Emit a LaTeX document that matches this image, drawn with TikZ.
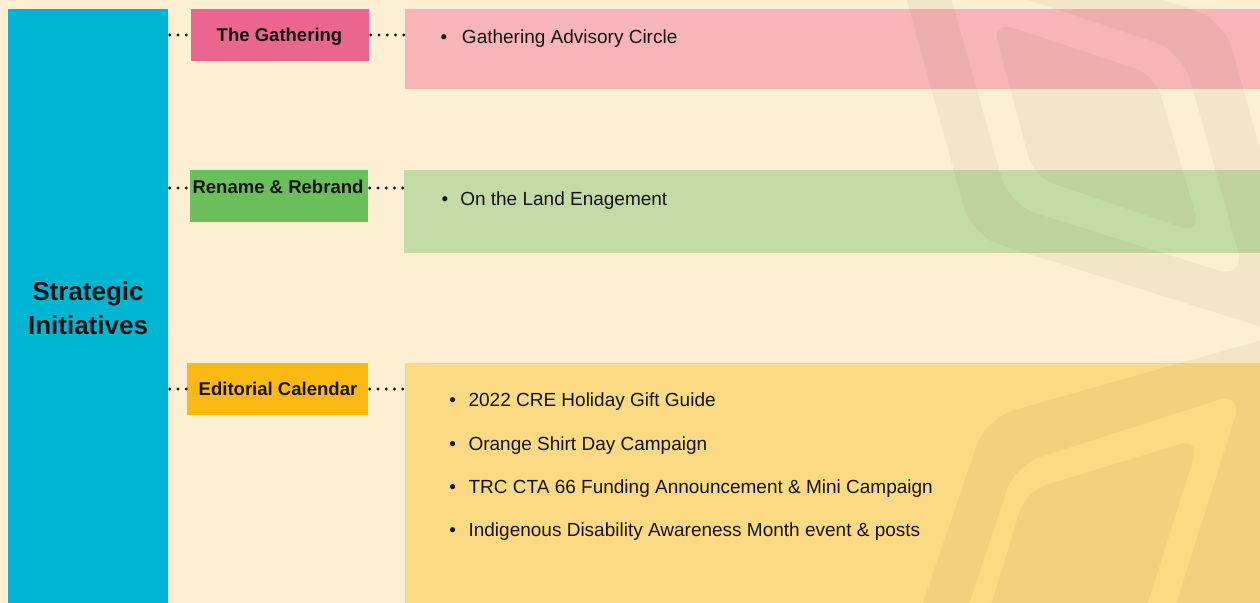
\documentclass[tikz,border=0pt]{standalone}
\usepackage{fontspec}
\setmainfont{Liberation Sans}
\usetikzlibrary{fit}

\definecolor{cream}{HTML}{FEEFD3}
\definecolor{blueC}{HTML}{00B5D2}
\definecolor{pinkL}{HTML}{EA6690}
\definecolor{pinkC}{HTML}{F7B5B7}
\definecolor{greenL}{HTML}{6ABF5C}
\definecolor{greenC}{HTML}{C3DBA5}
\definecolor{yellowL}{HTML}{FDB913}
\definecolor{yellowC}{HTML}{FCD983}
\definecolor{ink}{HTML}{141414}
\definecolor{wmark}{HTML}{786440}

\begin{document}
\begin{tikzpicture}[x=0.75pt,y=-0.75pt,
  panel/.style={fill=#1, draw=none, inner sep=0pt, outer sep=0pt},
  lbl/.style={font=\fontsize{13.9pt}{16pt}\selectfont\bfseries, text=ink, inner sep=0pt, anchor=base},
  head/.style={font=\fontsize{19.5pt}{25.5pt}\selectfont\bfseries, text=ink, inner sep=0pt, align=center, anchor=base},
  item/.style={font=\fontsize{14.25pt}{17pt}\selectfont, text=ink, inner sep=0pt, anchor=base west},
  bul/.style={font=\fontsize{14.25pt}{17pt}\selectfont, text=ink, inner sep=0pt, anchor=base},
  dotline/.style={draw=ink, line width=2.5pt, line cap=round, dash pattern=on 0pt off 6.2pt, dash phase=4.9pt},
]
\useasboundingbox (0,0) rectangle (1260,603);
\fill[cream] (0,0) rectangle (1260,603);

% coloured panels
\node[panel=blueC, fit={(8,9) (168,603)}] (strat) {};
\node[panel=pinkL, fit={(191,9) (369,61)}] (gathBox) {};
\node[panel=pinkC, fit={(405,9) (1260,89)}] (gathList) {};
\node[panel=greenL, fit={(190,170) (368,222)}] (renBox) {};
\node[panel=greenC, fit={(404,170) (1260,253)}] (renList) {};
\node[panel=yellowL, fit={(187,363) (368,415)}] (edBox) {};
\node[panel=yellowC, fit={(405,363) (1260,603)}] (edList) {};

% faint logo outline in the background
\begin{scope}
\clip (0,0) rectangle (1260,603);
\fill[wmark, fill opacity=0.075, even odd rule]
  [rounded corners=22] (881,-93) -- (1224,20) -- (1330,400) -- (1500,700) -- (890,700)
  -- (986,418) -- (1248,344) [sharp corners]
  .. controls (1266,339) and (1266,328) .. (1249,323) [rounded corners=22]
  -- (972,236) -- cycle
  [rounded corners=22] (944,-28) -- (1182,51) -- (1246,279) -- (1009,205) -- cycle
  [rounded corners=16] (992,21) -- (1155,75) -- (1201,234) -- (1034,177) -- cycle
  [rounded corners=20] (1015,465) -- (1243,392) -- (1146,700) -- (937,700) -- cycle
  [rounded corners=16] (1026,491) -- (1200,438) -- (1117,700) -- (962,700) -- cycle;
\end{scope}

% headings
\node[head] (stratT) at (88,334) {Strategic\\Initiatives};
\node[lbl] (gathT) at (279.5,41) {The Gathering};
\node[lbl] (renT) at (278,193) {Rename \& Rebrand};
\node[lbl] (edT) at (278,395) {Editorial Calendar};

% dotted connectors
\path ([yshift=6pt]renBox.west) coordinate (renL) ([yshift=6pt]renBox.east) coordinate (renR);
\draw[dotline] (strat.east |- gathBox.west) -- (gathBox.west);
\draw[dotline] (gathBox.east) -- (gathList.west |- gathBox.east);
\draw[dotline] (strat.east |- renL) -- (renL);
\draw[dotline] (renR) -- (renList.west |- renR);
\draw[dotline] (strat.east |- edBox.west) -- (edBox.west);
\draw[dotline] (edBox.east) -- (edList.west |- edBox.east);

% list items
\node[bul] (b1) at (444,43.3) {•};
\node[item] (i1) at (461.7,43.3) {Gathering Advisory Circle};
\node[bul] (b2) at (445,205) {•};
\node[item] (i2) at (460,205) {On the Land Enagement};
\node[bul] (b3) at (452.7,406.7) {•};
\node[item] (i3) at (468.3,406.7) {2022 CRE Holiday Gift Guide};
\node[bul] (b4) at (452.7,450) {•};
\node[item] (i4) at (468.3,450) {Orange Shirt Day Campaign};
\node[bul] (b5) at (452.7,493.3) {•};
\node[item] (i5) at (468.3,493.3) {TRC CTA 66 Funding Announcement \& Mini Campaign};
\node[bul] (b6) at (452.7,536.7) {•};
\node[item] (i6) at (468.3,536.7) {Indigenous Disability Awareness Month event \& posts};
\end{tikzpicture}
\end{document}
